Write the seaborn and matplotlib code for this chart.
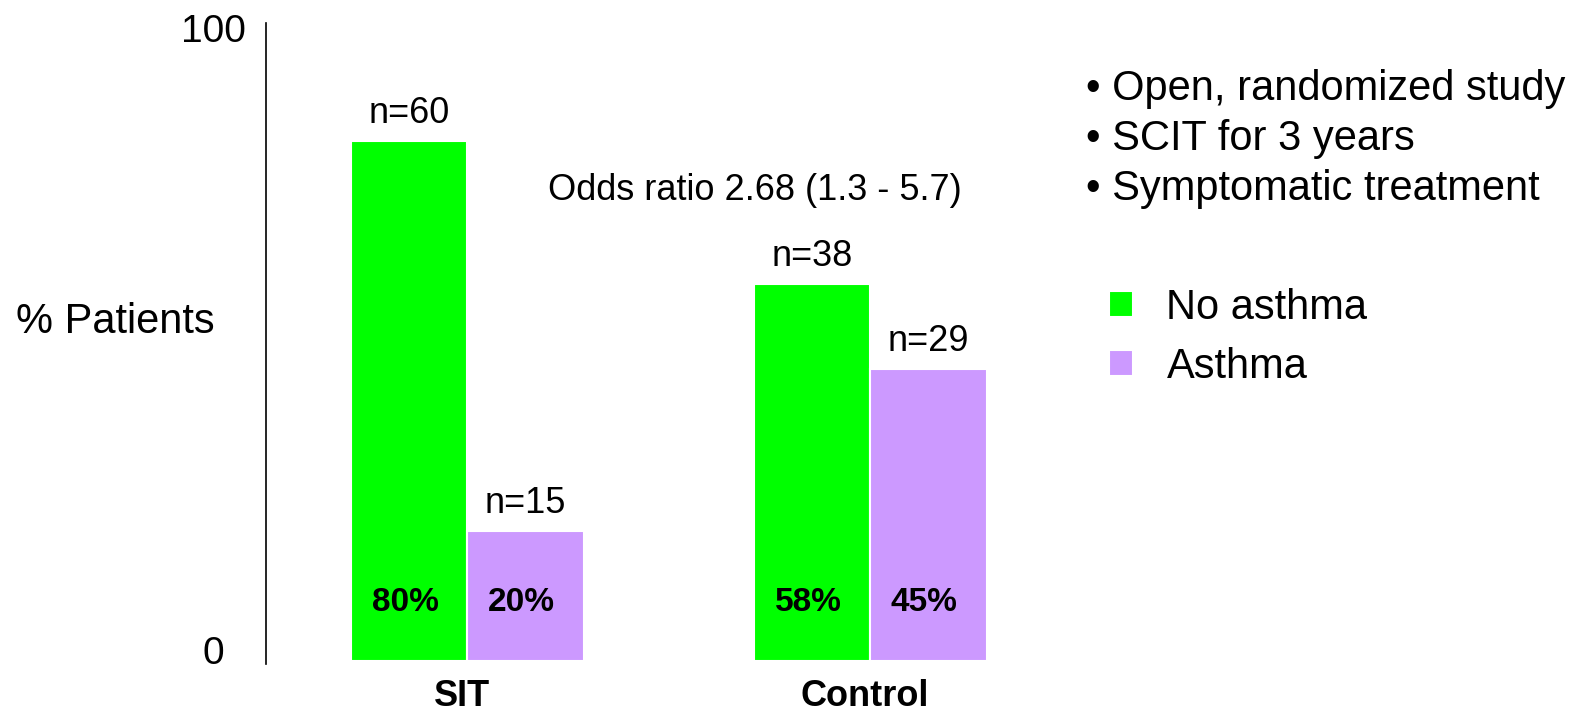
import matplotlib
matplotlib.use("Agg")
import matplotlib.pyplot as plt
import matplotlib.transforms as mtransforms
import pandas as pd
import seaborn as sns

# Data
groups = ["SIT", "Control"]
outcomes = ["No asthma", "Asthma"]
percent_no_asthma = [80, 58]
percent_asthma = [20, 45]
n_no_asthma = [60, 38]
n_asthma = [15, 29]
bullets = ["Open, randomized study", "SCIT for 3 years", "Symptomatic treatment"]
odds_text = "Odds ratio 2.68 (1.3 - 5.7)"

colors = ["#00FF00", "#CC99FF"]

df = pd.DataFrame({
    "group": groups * 2,
    "outcome": [outcomes[0]] * len(groups) + [outcomes[1]] * len(groups),
    "percent": percent_no_asthma + percent_asthma,
})

sns.set_theme(style="white")
plt.rcParams["font.family"] = ["Liberation Sans", "DejaVu Sans"]
plt.rcParams["text.color"] = "black"

W, H = 1593, 717
fig = plt.figure(figsize=(W / 100, H / 100), dpi=100)
ax = fig.add_axes([266 / W, 53 / H, 806 / W, 653 / H])

sns.barplot(
    data=df, x="group", y="percent", hue="outcome", hue_order=outcomes,
    order=groups, palette=colors, saturation=1, errorbar=None,
    width=0.576, edgecolor="white", linewidth=1.5, ax=ax,
)

ax.set_xlim(-0.5, 1.5)
ax.set_ylim(-0.46, 100)
ax.set_xlabel("")
ax.set_ylabel("")

# Axis styling: only a left line, no bottom axis
sns.despine(ax=ax, bottom=True)
ax.spines["left"].set_color("black")
ax.spines["left"].set_linewidth(1.2)
ax.spines["left"].set_bounds(-0.46, 98.15)

ax.set_yticks([0, 100], labels=["0", "100"])
ax.tick_params(axis="y", length=0, pad=38, labelsize=28, labelcolor="black")
ax.tick_params(axis="x", length=0, pad=11, labelsize=26, labelcolor="black")
for lbl in ax.get_xticklabels():
    lbl.set_fontweight("bold")
    lbl.set_transform(lbl.get_transform() +
                      mtransforms.ScaledTranslation(-6 / 100, 0, fig.dpi_scale_trans))
shifts = {"0": 11, "100": -17}
for lbl in ax.get_yticklabels():
    lbl.set_horizontalalignment("center")
    dy = shifts.get(lbl.get_text(), 0)
    lbl.set_transform(lbl.get_transform() +
                      mtransforms.ScaledTranslation(0, dy / 100, fig.dpi_scale_trans))

ax.set_ylabel("% Patients", rotation=0, fontsize=30, color="black",
              ha="center", va="center")
ax.yaxis.set_label_coords(-0.187, 0.524)

# Sample sizes above bars, percentages inside bars near the base
counts = [n_no_asthma, n_asthma]
values = [percent_no_asthma, percent_asthma]
for container, ns, vals in zip(ax.containers, counts, values):
    ax.bar_label(container, labels=[f"n={n}" for n in ns], padding=7,
                 fontsize=26, color="black")
    for bar, v in zip(container, vals):
        ax.annotate(f"{v}%", xy=(bar.get_x() + bar.get_width() / 2, 0),
                    xytext=(-3, 42), textcoords="offset points",
                    ha="center", va="center", fontsize=24,
                    fontweight="bold", color="black")

fig.text(755 / W, 1 - 190 / H, odds_text, ha="center", va="center",
         fontsize=26, color="black")

for i, line in enumerate(bullets):
    fig.text(1086 / W, 1 - (89 + 50 * i) / H, "\u2022 " + line,
             ha="left", va="center", fontsize=30, color="black")

sns.move_legend(
    ax, loc="upper left", bbox_to_anchor=(1109 / W, 1 - 288 / H),
    bbox_transform=fig.transFigure, frameon=False, title=None,
    fontsize=30, handlelength=0.58, handleheight=0.58, handletextpad=0.8,
    labelspacing=0.45, borderpad=0, borderaxespad=0,
)
for t in ax.get_legend().get_texts():
    t.set_color("black")

fig.savefig("out.png", dpi=100, facecolor="white")
